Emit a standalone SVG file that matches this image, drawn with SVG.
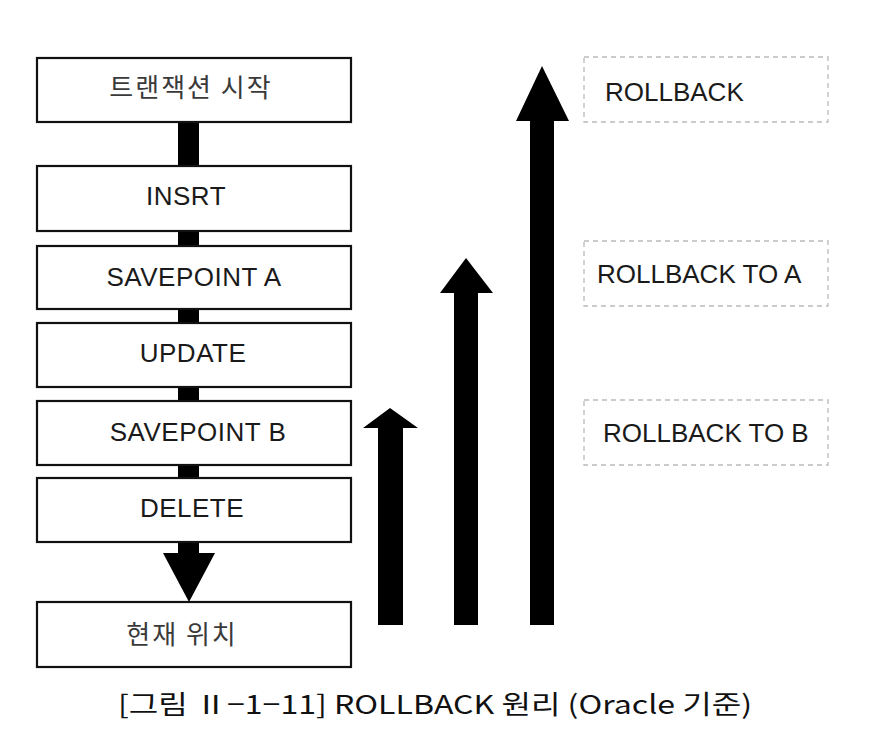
<svg xmlns="http://www.w3.org/2000/svg" width="872" height="747" viewBox="0 0 872 747">
<style>
.box{fill:#fff;stroke:#111;stroke-width:2.2}
.dash{fill:none;stroke:#bbb;stroke-width:1.3;stroke-dasharray:5 4}
.t{font-family:"Liberation Sans",Arial,"Noto Sans CJK KR",sans-serif;font-size:26px;letter-spacing:0.5px;fill:#1a1a1a;text-anchor:middle}
.k{font-family:"Noto Sans CJK KR","Liberation Sans",sans-serif;font-size:26px;letter-spacing:2px;fill:#3a3a3a;text-anchor:middle}
.r{font-family:"Liberation Sans",Arial,sans-serif;font-size:26px;fill:#1a1a1a}
.bar{fill:#000}
</style>
<rect width="872" height="747" fill="#fff"/>
<g id="connectors">
<rect class="bar" x="178" y="121" width="21" height="46"/>
<rect class="bar" x="178" y="230" width="21" height="16"/>
<rect class="bar" x="178" y="309" width="21" height="14"/>
<rect class="bar" x="178" y="386" width="21" height="15"/>
<rect class="bar" x="178" y="464" width="21" height="15"/>
<path class="bar" d="M178 541 H199 V553 H215 L189 602 L163 553 H178 Z"/>
<path class="bar" d="M378 625 V428 H363 L390 408 L418 428 H403 V625 Z"/>
<path class="bar" d="M454 625 V293 H440 L466 258 L493 293 H478 V625 Z"/>
<path class="bar" d="M530 625 V121 H516 L542 66 L569 121 H554 V625 Z"/>
</g>
<g id="n-start"><rect class="box" x="37" y="58" width="314" height="64"/><text class="k" x="191" y="97">트랜잭션 시작</text></g>
<g id="n-insert"><rect class="box" x="37" y="166" width="314" height="65"/><text class="t" x="186" y="205">INSRT</text></g>
<g id="n-spa"><rect class="box" x="37" y="246" width="314" height="63"/><text class="t" x="194" y="286">SAVEPOINT A</text></g>
<g id="n-update"><rect class="box" x="37" y="323" width="314" height="64"/><text class="t" x="193" y="362">UPDATE</text></g>
<g id="n-spb"><rect class="box" x="37" y="401" width="314" height="64"/><text class="t" x="198" y="441">SAVEPOINT B</text></g>
<g id="n-delete"><rect class="box" x="37" y="478" width="314" height="64"/><text class="t" x="192" y="517">DELETE</text></g>
<g id="n-current"><rect class="box" x="37" y="602" width="314" height="65"/><text class="k" x="182" y="644">현재 위치</text></g>
<g id="l-rollback"><rect class="dash" x="584" y="57" width="244" height="65"/><text class="r" x="605" y="101">ROLLBACK</text></g>
<g id="l-rollback-a"><rect class="dash" x="584" y="241" width="244" height="65"/><text class="r" x="597" y="283">ROLLBACK TO A</text></g>
<g id="l-rollback-b"><rect class="dash" x="584" y="400" width="244" height="65"/><text class="r" x="603" y="442">ROLLBACK TO B</text></g>
<text x="435" y="714" font-family="Noto Sans CJK KR,Liberation Sans,sans-serif" font-size="26" fill="#111" text-anchor="middle" textLength="634" lengthAdjust="spacingAndGlyphs">[그림 Ⅱ−1−11] ROLLBACK 원리 (Oracle 기준)</text>
</svg>
